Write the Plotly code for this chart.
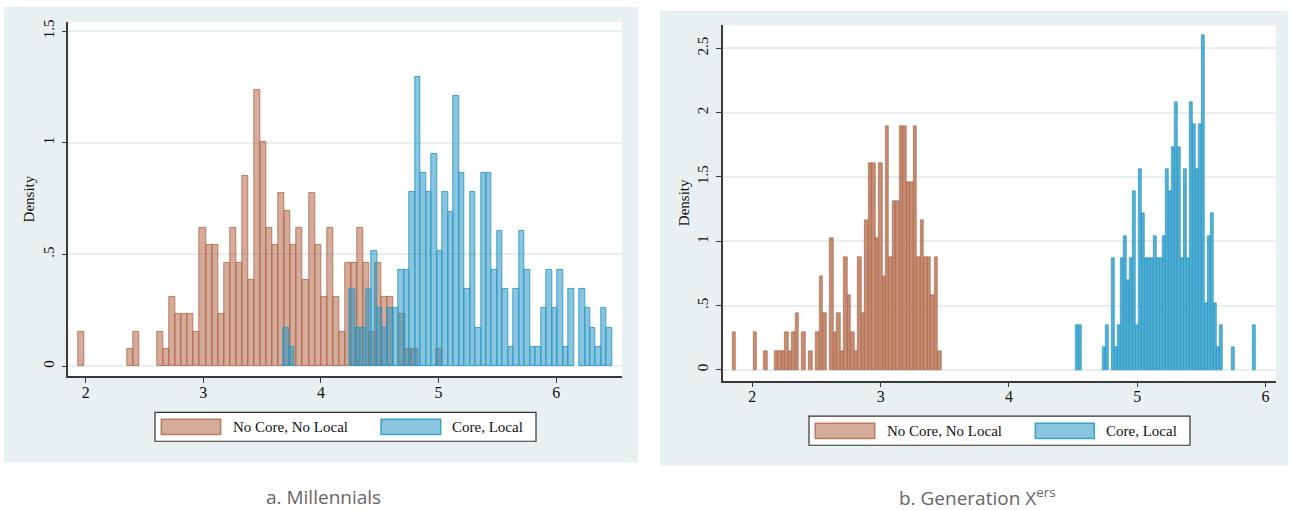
import plotly.graph_objects as go

# ---------------- data (bar heights = density) ----------------
x_ticks = [2, 3, 4, 5, 6]
left_y_ticks = [0, 0.5, 1, 1.5]
left_y_labels = ["0", ".5", "1", "1.5"]
right_y_ticks = [0, 0.5, 1, 1.5, 2, 2.5]
right_y_labels = ["0", ".5", "1", "1.5", "2", "2.5"]
series_names = ["No Core, No Local", "Core, Local"]
panel_titles = ["a. Millennials", "b. Generation X<sup>ers</sup>"]

# a. Millennials — "No Core, No Local" (bins start 1.940, width 0.0515)
mil_nocore_start = 1.940
mil_nocore_width = 0.0515
mil_nocore = [0.155, 0, 0, 0, 0, 0, 0, 0, 0.077, 0.155, 0, 0, 0, 0.155, 0.077, 0.310,
              0.232, 0.232, 0.232, 0.155, 0.619, 0.542, 0.542, 0.232, 0.464, 0.619, 0.464,
              0.851, 0.387, 1.238, 1.006, 0.619, 0.542, 0.774, 0.697, 0.542, 0.619, 0.387,
              0.774, 0.542, 0.310, 0.619, 0.310, 0.155, 0.464, 0.464, 0.619, 0.464, 0.155,
              0.464, 0.310, 0.310, 0, 0.232, 0.077, 0.077, 0, 0, 0, 0.077]

# a. Millennials — "Core, Local" (bins start 3.684, width 0.04654)
mil_core_start = 3.684
mil_core_width = 0.04654
mil_core = [0.173, 0.086, 0, 0, 0, 0, 0, 0, 0, 0, 0, 0, 0.346, 0.173, 0.173, 0.346, 0.518,
            0.259, 0.173, 0.259, 0.259, 0.432, 0.432, 0.778, 1.296, 0.864, 0.778, 0.950,
            0.518, 0.778, 0.691, 1.210, 0.864, 0.346, 0.778, 0.173, 0.864, 0.864, 0.432,
            0.605, 0.346, 0.086, 0.346, 0.605, 0.432, 0.086, 0.086, 0.259, 0.432, 0.259,
            0.432, 0.086, 0.346, 0, 0.346, 0.259, 0.173, 0.086, 0.259, 0.173]

# b. Generation X — "No Core, No Local" (bins start 1.846, width 0.02712)
genx_nocore_start = 1.846
genx_nocore_width = 0.02712
genx_nocore = [0.292, 0, 0, 0, 0, 0, 0.292, 0, 0, 0.146, 0, 0, 0.146, 0.146, 0.146, 0.292,
               0.146, 0.292, 0.437, 0, 0.292, 0, 0.146, 0, 0.292, 0.729, 0.437, 0, 1.021,
               0.292, 0.437, 0.146, 0.875, 0.583, 0.292, 0.146, 0.875, 0.437, 1.166, 1.604,
               1.604, 1.021, 1.604, 0.729, 1.895, 0.875, 1.312, 1.312, 1.895, 1.895, 1.458,
               1.458, 1.895, 0.875, 1.166, 0.875, 0.875, 0.583, 0.875, 0.146]

# b. Generation X — "Core, Local" (bins start 4.522, width 0.0233)
genx_core_start = 4.522
genx_core_width = 0.0233
genx_core = [0.347, 0.347, 0, 0, 0, 0, 0, 0, 0, 0.174, 0.347, 0, 0.868, 0.174, 0.347, 0.868,
             1.041, 0.694, 0.868, 1.388, 0.347, 1.562, 1.215, 0.868, 0.868, 0.868, 1.041,
             0.868, 0.868, 1.041, 1.562, 1.388, 1.735, 2.082, 1.735, 0.868, 1.562, 0.868,
             2.082, 1.909, 1.562, 1.909, 2.603, 0.521, 1.041, 1.215, 0.521, 0.174, 0.347,
             0, 0, 0, 0.174, 0, 0, 0, 0, 0, 0, 0.347]

# ---------------- styling ----------------
W, H = 1292, 510
BROWN_FILL = "rgba(178,102,72,0.55)"
BROWN_LINE = "rgba(175,100,70,0.80)"
BLUE_FILL = "rgba(40,150,195,0.55)"
BLUE_LINE = "rgba(40,150,195,0.85)"
BROWN_FILL_R = "rgba(180,108,78,0.78)"
BLUE_FILL_R = "rgba(40,155,200,0.80)"
PANEL_BG = "#E9F0F2"
SERIF = "Liberation Serif"


def px(x):
    return x / W


def py(y):
    return 1 - y / H


def bar_trace(values, start, width, fill, line, xa, ya, name, lw=1.0):
    xs = [start + (i + 0.5) * width for i in range(len(values))]
    ys = [v if v > 0 else None for v in values]
    return go.Bar(x=xs, y=ys, width=width, name=name,
                  marker=dict(color=fill, line=dict(color=line, width=lw)),
                  xaxis=xa, yaxis=ya, showlegend=False, hoverinfo="x+y")


fig = go.Figure()
fig.add_trace(bar_trace(mil_nocore, mil_nocore_start, mil_nocore_width,
                        BROWN_FILL, BROWN_LINE, "x", "y", series_names[0]))
fig.add_trace(bar_trace(mil_core, mil_core_start, mil_core_width,
                        BLUE_FILL, BLUE_LINE, "x", "y", series_names[1]))
fig.add_trace(bar_trace(genx_nocore, genx_nocore_start, genx_nocore_width,
                        BROWN_FILL_R, BROWN_LINE, "x2", "y2", series_names[0], lw=0.8))
fig.add_trace(bar_trace(genx_core, genx_core_start, genx_core_width,
                        BLUE_FILL_R, BLUE_LINE, "x2", "y2", series_names[1], lw=0.8))

# plot-area geometry (pixels)
L = dict(x0=68.3, x1=622, y0=20, y1=375.7)
R = dict(x0=722.7, x1=1276, y0=23.3, y1=380)

axis_line = dict(showline=True, linecolor="#3a3a3a", linewidth=1.5,
                 ticks="outside", ticklen=5, tickwidth=1.2, tickcolor="#3a3a3a",
                 zeroline=False)
x_font = dict(family=SERIF, size=16, color="#111")
y_font = dict(family=SERIF, size=15, color="#111")
title_font = dict(family=SERIF, size=15, color="#111")

fig.update_layout(
    width=W, height=H,
    margin=dict(l=0, r=0, t=0, b=0),
    paper_bgcolor="white",
    plot_bgcolor="rgba(0,0,0,0)",
    barmode="overlay",
    bargap=0,
    xaxis=dict(domain=[px(L["x0"]), px(L["x1"])], range=[1.852, 6.560],
               tickvals=x_ticks, showgrid=False, anchor="y", tickfont=x_font,
               ticklabelstandoff=-4, **axis_line),
    yaxis=dict(domain=[py(L["y1"]), py(L["y0"])], range=[-0.045, 1.541],
               tickvals=left_y_ticks, ticktext=left_y_labels, tickangle=-90,
               showgrid=True, gridcolor="#E6EEF0", gridwidth=1.5, anchor="x",
               tickfont=y_font, ticklabelstandoff=2,
               title=dict(text="Density", font=title_font, standoff=2),
               **axis_line),
    xaxis2=dict(domain=[px(R["x0"]), px(R["x1"])], range=[1.769, 6.081],
                tickvals=x_ticks, showgrid=False, anchor="y2", tickfont=x_font,
                ticklabelstandoff=-4, **axis_line),
    yaxis2=dict(domain=[py(R["y1"]), py(R["y0"])], range=[-0.083, 2.680],
                tickvals=right_y_ticks, ticktext=right_y_labels, tickangle=-90,
                showgrid=True, gridcolor="#E6EEF0", gridwidth=1.5, anchor="x2",
                tickfont=y_font, ticklabelstandoff=2,
                title=dict(text="Density", font=title_font, standoff=2),
                **axis_line),
)

shapes = []
# panel backgrounds
shapes.append(dict(type="rect", xref="paper", yref="paper", layer="below",
                   x0=px(4), x1=px(638), y0=py(462), y1=py(5),
                   fillcolor=PANEL_BG, line=dict(width=0)))
shapes.append(dict(type="rect", xref="paper", yref="paper", layer="below",
                   x0=px(660), x1=px(1288), y0=py(465), y1=py(9),
                   fillcolor=PANEL_BG, line=dict(width=0)))
# white plot areas
for g in (L, R):
    shapes.append(dict(type="rect", xref="paper", yref="paper", layer="below",
                       x0=px(g["x0"]), x1=px(g["x1"]), y0=py(g["y1"]), y1=py(g["y0"]),
                       fillcolor="white", line=dict(width=0)))

# legends (drawn as boxes + swatches + text)
legends = [
    dict(box=(155, 536, 412, 441), sw1=(161.3, 220.7), sw2=(381, 440.7), swy=(419, 434.3),
         t1=230.7, t2=450, ty=426.5),
    dict(box=(809, 1190, 415.7, 445), sw1=(815.3, 874.7), sw2=(1035.3, 1094.3), swy=(423, 438.3),
         t1=885.3, t2=1104, ty=430.3),
]
annotations = []
for lg in legends:
    bx0, bx1, by0, by1 = lg["box"]
    shapes.append(dict(type="rect", xref="paper", yref="paper", layer="above",
                       x0=px(bx0), x1=px(bx1), y0=py(by1), y1=py(by0),
                       fillcolor="white", line=dict(color="#333", width=1.2)))
    sy0, sy1 = lg["swy"]
    for (sx0, sx1), fill, line in ((lg["sw1"], BROWN_FILL, BROWN_LINE),
                                   (lg["sw2"], BLUE_FILL, BLUE_LINE)):
        shapes.append(dict(type="rect", xref="paper", yref="paper", layer="above",
                           x0=px(sx0), x1=px(sx1), y0=py(sy1), y1=py(sy0),
                           fillcolor=fill, line=dict(color=line, width=1.5)))
    for tx, txt in ((lg["t1"], series_names[0]), (lg["t2"], series_names[1])):
        annotations.append(dict(xref="paper", yref="paper", x=px(tx), y=py(lg["ty"]),
                                text=txt, showarrow=False, xanchor="left", yanchor="middle",
                                font=dict(family=SERIF, size=15, color="#111")))

# panel captions
annotations.append(dict(xref="paper", yref="paper", x=px(323.5), y=py(497), text=panel_titles[0],
                        showarrow=False, xanchor="center", yanchor="middle",
                        font=dict(family="Open Sans", size=19, color="#666")))
annotations.append(dict(xref="paper", yref="paper", x=px(977.7), y=py(497), text=panel_titles[1],
                        showarrow=False, xanchor="center", yanchor="middle",
                        font=dict(family="Open Sans", size=19, color="#666")))

fig.update_layout(shapes=shapes, annotations=annotations)
fig.write_html("out.html", config={"displayModeBar": False},
               post_script="document.body.style.margin='0px';document.body.style.padding='0px';")
